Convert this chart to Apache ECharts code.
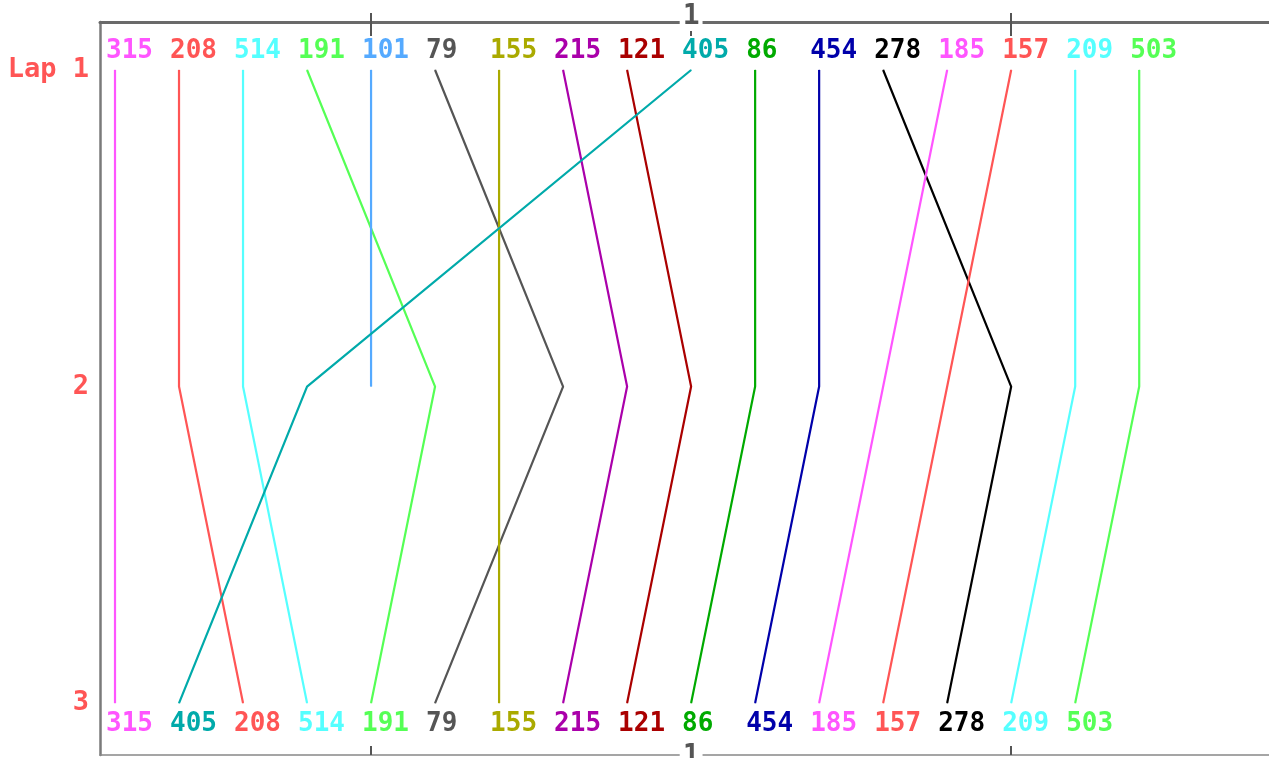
<!DOCTYPE html>
<html>
<head>
<meta charset="utf-8">
<script src="https://cdn.jsdelivr.net/npm/echarts@6/dist/echarts.min.js"></script>
<style>html,body{margin:0;padding:0;background:#fff;}#chart{width:1269px;height:758px;}</style>
</head>
<body>
<div id="chart"></div>
<script>
// Car numbers and their colours
const cars = ['315','208','514','191','101','79','155','215','121','405','86','454','278','185','157','209','503'];
const carColors = ['#FF55FF','#FF5555','#55FFFF','#55FF55','#55AAFF','#555555','#AAAA00','#AA00AA','#AA0000','#00AAAA','#00AA00','#0000AA','#000000','#FF55FF','#FF5555','#55FFFF','#55FF55'];
// Lap numbers and labels
const laps = [1, 2, 3];
const lapLabels = ['Lap 1', '2', '3'];
// Running order (position 1 first) at the end of each lap
const lap1Order = ['315','208','514','191','101','79','155','215','121','405','86','454','278','185','157','209','503'];
const lap2Order = ['315','208','514','405','101','191','155','79','215','121','86','454','185','157','278','209','503'];
const lap3Order = ['315','405','208','514','191','79','155','215','121','86','454','185','157','278','209','503'];
const lapOrders = [lap1Order, lap2Order, lap3Order];
// Axis ticks
const axisTickValues = [5, 10, 15];
const axisLabelValues = [10];
const axisLabelTexts = ['1'];

const FONT = 'DejaVu Sans Mono';

const series = cars.map((car, ci) => {
  const pts = [];
  laps.forEach((lap, li) => {
    const idx = lapOrders[li].indexOf(car);
    if (idx >= 0) pts.push([idx + 1, lap]);
  });
  const data = pts.map((p, i) => {
    const item = { value: p };
    const isFirst = i === 0;
    const isLast = i === pts.length - 1 && p[1] === laps[laps.length - 1];
    if (isFirst || isLast) {
      item.label = {
        show: true,
        formatter: car,
        position: isFirst ? 'top' : 'bottom',
        distance: isFirst ? 5 : 8,
        align: 'left',
        offset: [-9, 0],
        color: carColors[ci],
        fontFamily: FONT,
        fontWeight: 'bold',
        fontSize: 26
      };
    }
    return item;
  });
  return {
    type: 'line',
    name: car,
    data: data,
    symbol: 'circle',
    symbolSize: 1,
    showSymbol: true,
    itemStyle: { color: carColors[ci] },
    lineStyle: { color: carColors[ci], width: 2.2 },
    label: { show: false },
    emphasis: { disabled: true },
    silent: true,
    xAxisIndex: 0,
    z: 2
  };
});

const labelMap = {};
axisLabelValues.forEach((v, i) => labelMap[v] = axisLabelTexts[i]);

const chart = echarts.init(document.getElementById('chart'));
chart.setOption({
  animation: false,
  backgroundColor: '#fff',
  grid: { left: 100, right: -20, top: 22, bottom: 3, containLabel: false, outerBoundsMode: 'none' },
  xAxis: [
    {
      type: 'value', position: 'top', min: 0.7656, max: 19.34,
      axisLine: { show: true, lineStyle: { color: '#6a6a6a', width: 3 } },
      axisTick: { show: true, customValues: axisTickValues, length: 9, lineStyle: { color: '#555', width: 2 } },
      axisLabel: {
        show: true, customValues: axisLabelValues,
        formatter: v => labelMap[v] || '',
        margin: 5, verticalAlign: 'middle',
        color: '#555', fontFamily: FONT, fontWeight: 'bold', fontSize: 28,
        backgroundColor: '#fff', padding: [0, 3]
      },
      splitLine: { show: false }
    },
    {
      type: 'value', position: 'top', min: 0.7656, max: 19.34,
      axisLine: { show: false },
      axisTick: { show: true, inside: true, customValues: axisTickValues, length: 14, lineStyle: { color: '#555', width: 2 } },
      axisLabel: { show: false },
      splitLine: { show: false }
    },
    {
      type: 'value', position: 'bottom', min: 0.7656, max: 19.34,
      axisLine: { show: true, lineStyle: { color: '#888', width: 1.5 } },
      axisTick: { show: true, inside: true, customValues: axisTickValues, length: 9, lineStyle: { color: '#555', width: 2 } },
      axisLabel: {
        show: true, customValues: axisLabelValues,
        formatter: v => labelMap[v] || '',
        margin: 2, verticalAlign: 'middle',
        color: '#555', fontFamily: FONT, fontWeight: 'bold', fontSize: 28,
        backgroundColor: '#fff', padding: [0, 3]
      },
      splitLine: { show: false }
    }
  ],
  yAxis: {
    type: 'value', inverse: true, min: 0.8483, max: 3.164,
    axisLine: { show: true, lineStyle: { color: '#7a7a7a', width: 2.5 } },
    axisTick: { show: false },
    axisLabel: {
      show: true, customValues: laps,
      formatter: v => lapLabels[laps.indexOf(v)] || '',
      margin: 11, color: '#FF5555', fontFamily: FONT, fontWeight: 'bold', fontSize: 27
    },
    splitLine: { show: false }
  },
  series: series
});
</script>
</body>
</html>
